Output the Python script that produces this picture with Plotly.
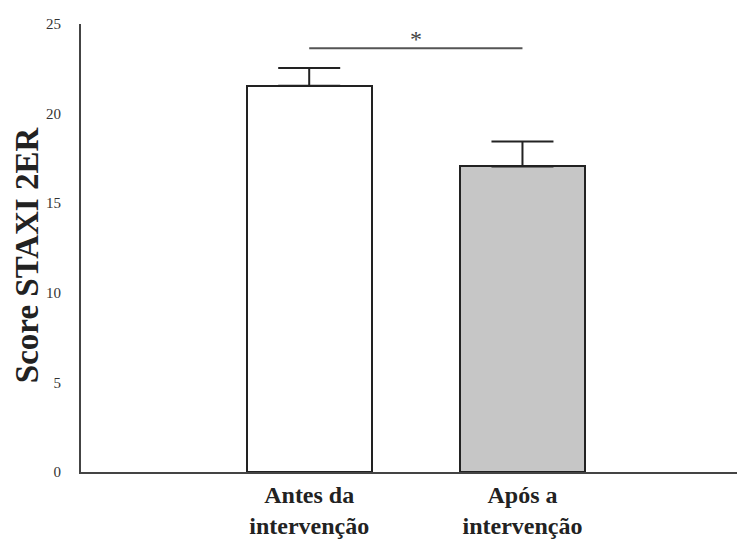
import plotly.graph_objects as go

categories = ["Antes da<br>intervenção", "Após a<br>intervenção"]
means = [21.55, 17.05]
errors = [1.0, 1.4]
bar_colors = ["#ffffff", "#c6c6c6"]
sig_y = 23.65
sig_label = "*"
y_ticks = [0, 5, 10, 15, 20, 25]
y_title = "Score STAXI 2ER"

x_pos = list(range(len(categories)))
serif = "Liberation Serif"

fig = go.Figure()
fig.add_trace(go.Bar(
    x=x_pos, y=means, width=0.585,
    marker=dict(color=bar_colors, line=dict(color="#222222", width=2)),
    error_y=dict(type="data", array=errors, arrayminus=[0] * len(errors),
                 symmetric=False, color="#222222", thickness=2, width=31),
    showlegend=False,
))

fig.add_shape(type="line", xref="x", yref="y", x0=x_pos[0], x1=x_pos[1],
              y0=sig_y, y1=sig_y, line=dict(color="#555555", width=2))
fig.add_annotation(x=(x_pos[0] + x_pos[1]) / 2, y=sig_y, yshift=9, text=sig_label,
                   showarrow=False, font=dict(family=serif, size=24, color="#444444"))
fig.add_annotation(xref="paper", yref="paper", x=0, y=0.484, xshift=-54,
                   text=y_title, textangle=-90, showarrow=False,
                   xanchor="center", yanchor="middle",
                   font=dict(family=serif, size=33, color="#222222", weight="bold"))

fig.update_layout(
    width=737, height=534,
    margin=dict(l=73, r=5, t=16, b=70),
    plot_bgcolor="white", paper_bgcolor="white",
    xaxis=dict(range=[-1.07, 2.02], tickvals=x_pos, ticktext=categories,
               showgrid=False, zeroline=False, showline=True, linecolor="#444444",
               linewidth=2, ticks="", ticklabelstandoff=0, automargin=False,
               tickfont=dict(family=serif, size=24, color="#222222", weight="bold")),
    yaxis=dict(range=[0, 25], tickvals=y_ticks, showgrid=False, zeroline=False,
               showline=True, linecolor="#444444", linewidth=2, ticks="",
               ticklabelstandoff=15, automargin=False,
               tickfont=dict(family=serif, size=15, color="#333333")),
    bargap=0,
)

fig.write_html("out.html")
